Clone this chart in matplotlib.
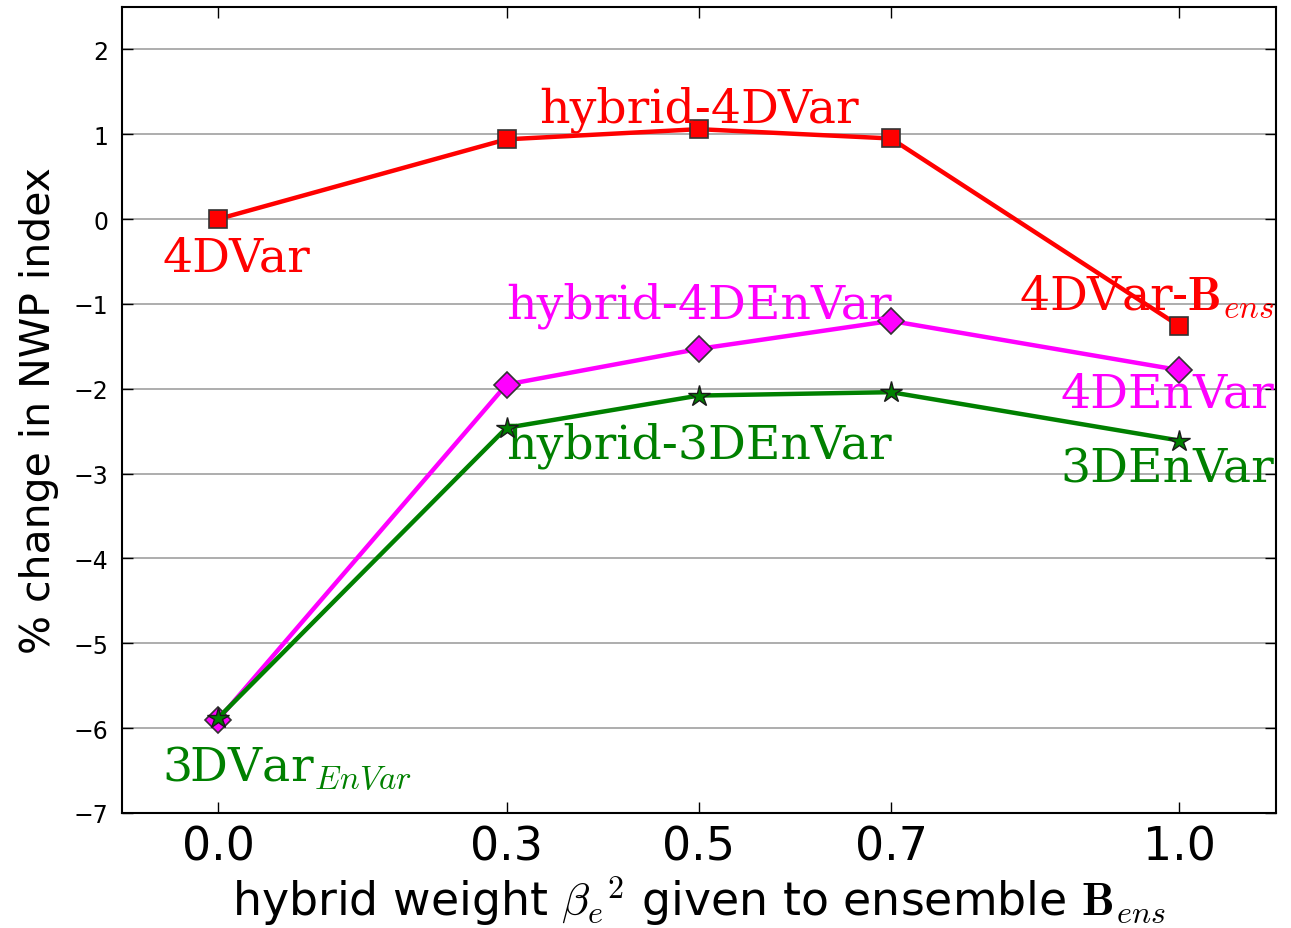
import matplotlib
matplotlib.use("Agg")
import matplotlib.pyplot as plt

plt.rcParams['mathtext.fontset'] = 'cm'
plt.rcParams['font.family'] = 'DejaVu Sans'

weights = [0.0, 0.3, 0.5, 0.7, 1.0]
tick_labels = ["0.0", "0.3", "0.5", "0.7", "1.0"]

var4d = [0.0, 0.94, 1.06, 0.95, -1.26]
envar4d = [-5.90, -1.95, -1.53, -1.20, -1.78]
envar3d = [-5.88, -2.46, -2.08, -2.04, -2.61]

fig = plt.figure(figsize=(12.91, 9.29), dpi=100)
ax = fig.add_axes([0.0945, 0.1238, 0.8935, 0.8676])

ax.plot(weights, var4d, color='#ff0000', lw=3.2, marker='s', ms=13,
        mfc='#ff0000', mec='#333333', mew=1.2, zorder=3)
ax.plot(weights, envar4d, color='#ff00ff', lw=3.2, marker='D', ms=13,
        mfc='#ff00ff', mec='#333333', mew=1.2, zorder=3)
ax.plot(weights, envar3d, color='#008000', lw=3.2, marker='*', ms=16,
        mfc='#008000', mec='#1a1a1a', mew=1.0, zorder=4)

# labels for each configuration
tfont = dict(family='DejaVu Serif', fontsize=34)
ax.text(-0.058, -0.61, "4DVar", color='#ff0000', **tfont)
ax.text(0.5, 1.15, "hybrid-4DVar", color='#ff0000', ha='center', **tfont)
ax.text(1.099, -1.06, r"4DVar-$\mathbf{B}_{ens}$", color='#ff0000', ha='right', **tfont)
ax.text(0.5, -1.16, "hybrid-4DEnVar", color='#ff00ff', ha='center', **tfont)
ax.text(1.099, -2.21, "4DEnVar", color='#ff00ff', ha='right', **tfont)
ax.text(0.5, -2.81, "hybrid-3DEnVar", color='#008000', ha='center', **tfont)
ax.text(1.099, -3.09, "3DEnVar", color='#008000', ha='right', **tfont)
ax.text(-0.058, -6.61, r"3DVar$_{EnVar}$", color='#008000', **tfont)

ax.set_xlim(-0.1, 1.1)
ax.set_ylim(-7, 2.5)
ax.set_xticks(weights)
ax.set_xticklabels(tick_labels, fontsize=33)
ax.set_yticks(range(-7, 3))
ax.set_yticklabels([str(v).replace('-', '\u2212') for v in range(-7, 3)], fontsize=17)
ax.tick_params(direction='in', top=True, right=True, length=8, width=1)
ax.tick_params(axis='x', pad=8)
ax.tick_params(axis='y', pad=10)
ax.yaxis.grid(True, color='#a0a0a0', lw=1.2)
for s in ax.spines.values():
    s.set_linewidth(1.5)

ax.set_xlabel(r"hybrid weight $\beta_e{}^2$ given to ensemble $\mathbf{B}_{ens}$",
              fontsize=33, labelpad=3)
ax.set_ylabel("% change in NWP index", fontsize=29.5, labelpad=10)

fig.savefig("out.png", dpi=100)
